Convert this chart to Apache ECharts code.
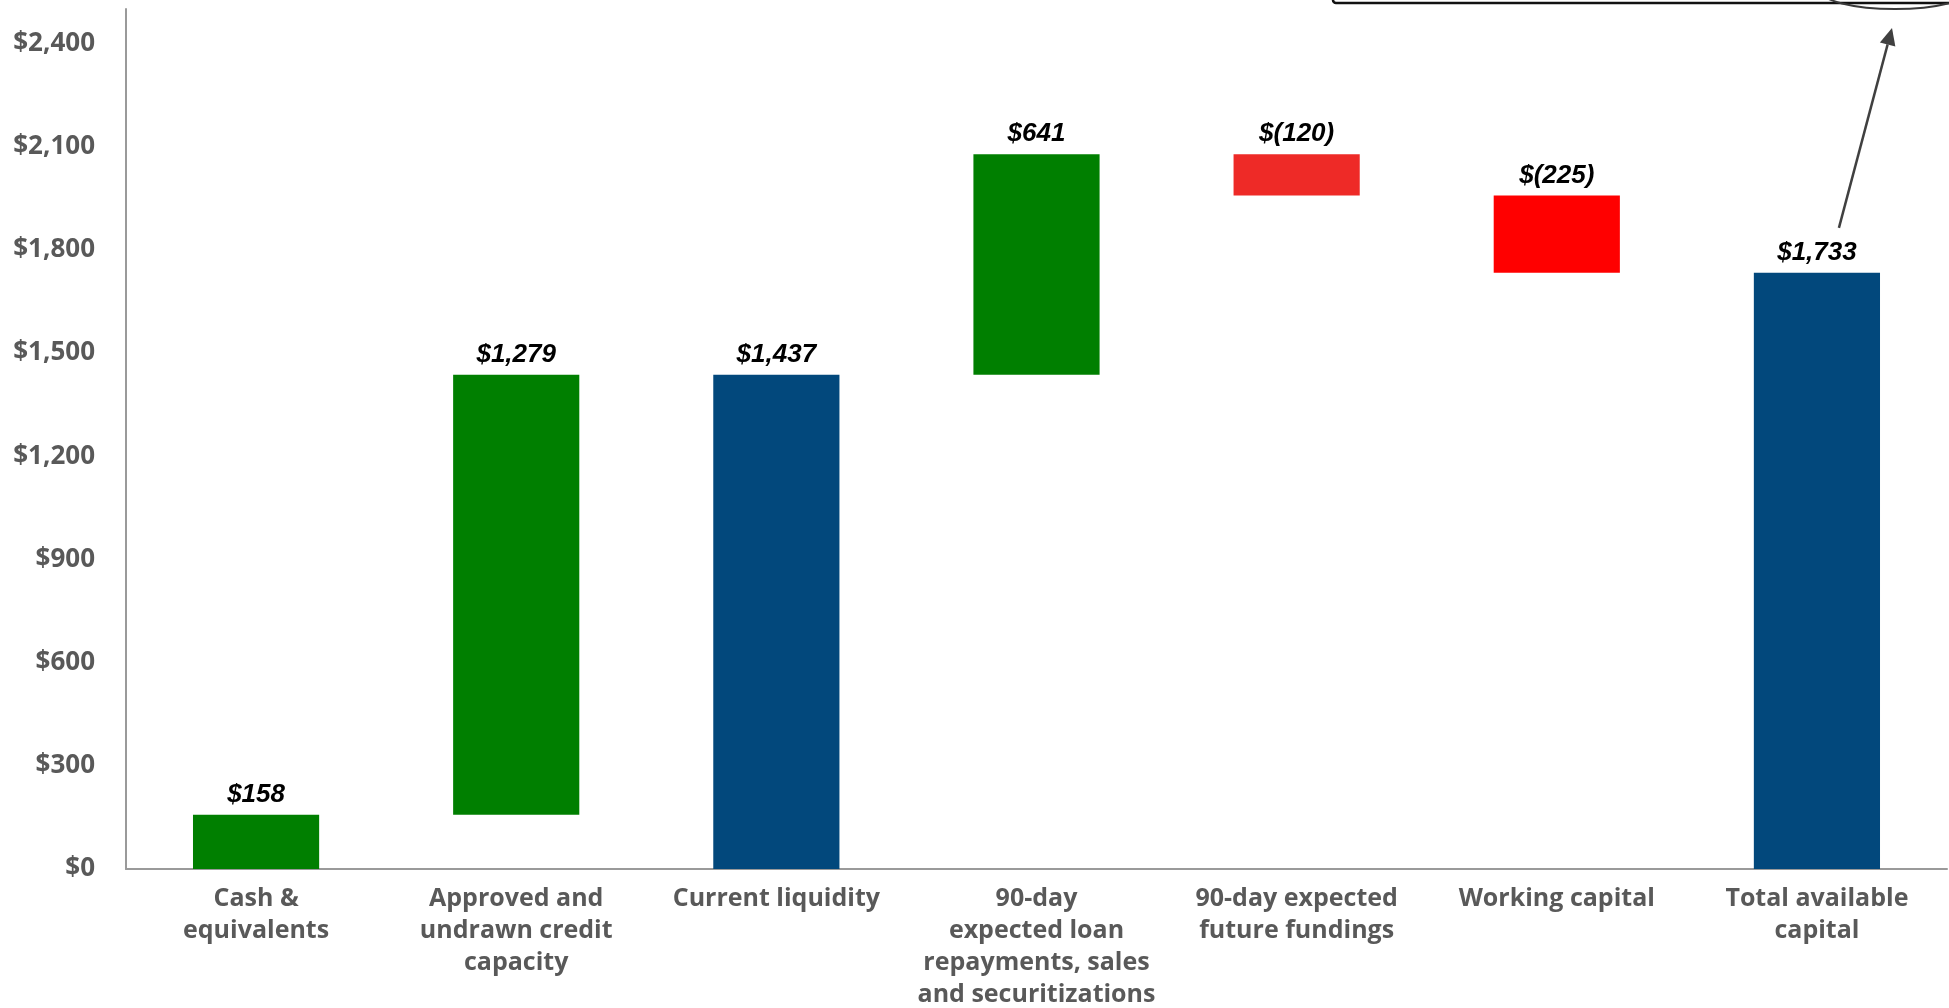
<!DOCTYPE html>
<html>
<head>
<meta charset="utf-8">
<title>Total available capital</title>
<script src="https://cdn.jsdelivr.net/npm/echarts@6/dist/echarts.min.js"></script>
<style>
  html, body { margin: 0; padding: 0; background: #ffffff; }
  #chart { width: 1949px; height: 1008px; }
</style>
</head>
<body>
<div id="chart"></div>
<script>
// Bridge from cash on hand to total available capital ($ millions)
const categories = [
  'Cash &\nequivalents',
  'Approved and\nundrawn credit\ncapacity',
  'Current liquidity',
  '90-day\nexpected loan\nrepayments, sales\nand securitizations',
  '90-day expected\nfuture fundings',
  'Working capital',
  'Total available\ncapital'
];
const amounts = [158, 1279, 1437, 641, -120, -225, 1733];
const isTotal = [false, false, true, false, false, false, true];

// value axis range and step
const axisMin = 0;
const axisMax = 2500;
const axisStep = 300;

// bar fills
const barColors = ['#007f00', '#007f00', '#02487c', '#007f00', '#ee2a27', '#ff0000', '#02487c'];

// Waterfall: an invisible base bar lifts each step to the running total
const bases = [];
const heights = [];
let running = 0;
amounts.forEach((a, i) => {
  if (isTotal[i]) {
    bases.push(0);
    heights.push(a);
    running = a;
  } else if (a >= 0) {
    bases.push(running);
    heights.push(a);
    running += a;
  } else {
    running += a;
    bases.push(running);
    heights.push(-a);
  }
});

function money(v) {
  const s = Math.abs(v).toLocaleString('en-US');
  return v < 0 ? '$(' + s + ')' : '$' + s;
}

const axisGrey = '#9a9a9a';
const labelGrey = '#595959';

const chart = echarts.init(document.getElementById('chart'), null, { renderer: 'canvas' });

chart.setOption({
  animation: false,
  backgroundColor: '#ffffff',
  grid: {
    left: 126,
    right: 2,
    top: 9,
    bottom: 139,
    containLabel: false,
    outerBoundsMode: 'none'
  },
  xAxis: {
    type: 'category',
    data: categories,
    axisLine: { show: true, lineStyle: { color: axisGrey, width: 2 } },
    axisTick: { show: false },
    splitLine: { show: false },
    axisLabel: {
      interval: 0,
      margin: 14,
      color: labelGrey,
      fontFamily: 'Open Sans',
      fontWeight: 'bold',
      fontSize: 25,
      lineHeight: 32,
      align: 'center'
    }
  },
  yAxis: {
    type: 'value',
    min: axisMin,
    max: axisMax,
    interval: axisStep,
    axisLine: { show: true, lineStyle: { color: axisGrey, width: 2 } },
    axisTick: { show: false },
    splitLine: { show: false },
    axisLabel: {
      margin: 31,
      color: labelGrey,
      fontFamily: 'Open Sans',
      fontWeight: 'bold',
      fontSize: 26,
      showMaxLabel: false,
      formatter: v => (v % axisStep === 0 ? '$' + v.toLocaleString('en-US') : '')
    }
  },
  series: [
    {
      name: 'base',
      type: 'bar',
      stack: 'bridge',
      barWidth: '48.5%',
      silent: true,
      itemStyle: { color: 'transparent' },
      data: bases
    },
    {
      name: 'step',
      type: 'bar',
      stack: 'bridge',
      barWidth: '48.5%',
      data: heights.map((h, i) => ({ value: h, itemStyle: { color: barColors[i] } })),
      label: {
        show: true,
        position: 'top',
        distance: 7,
        color: '#000000',
        fontFamily: 'Liberation Sans',
        fontStyle: 'italic',
        fontWeight: 'bold',
        fontSize: 26,
        formatter: p => money(amounts[p.dataIndex])
      }
    }
  ]
});

// Callout frame in the top-right corner with an arrow rising from the total
const last = amounts.length - 1;
const totalTop = chart.convertToPixel({ xAxisIndex: 0, yAxisIndex: 0 }, [last, amounts[last]]);
const start = [totalTop[0] + 22, totalTop[1] - 45];
const tip = [1892, 28];
const dx = tip[0] - start[0];
const dy = tip[1] - start[1];
const len = Math.sqrt(dx * dx + dy * dy);
const ux = dx / len, uy = dy / len;
const headLen = 17, headHalf = 8;
const bx = tip[0] - ux * headLen, by = tip[1] - uy * headLen;
const nx = -uy, ny = ux;

chart.setOption({
  graphic: [
    {
      type: 'rect',
      shape: { x: 1333, y: -300, width: 800, height: 303, r: 3 },
      style: { fill: 'none', stroke: '#111111', lineWidth: 2.5 },
      silent: true
    },
    {
      type: 'ellipse',
      shape: { cx: 1895, cy: -10, rx: 75, ry: 19 },
      style: { fill: 'none', stroke: '#3a3a3a', lineWidth: 2 },
      silent: true
    },
    {
      type: 'line',
      shape: { x1: start[0], y1: start[1], x2: bx, y2: by },
      style: { stroke: '#404040', lineWidth: 2.5 },
      silent: true
    },
    {
      type: 'polygon',
      shape: {
        points: [
          tip,
          [bx + nx * headHalf, by + ny * headHalf],
          [bx - nx * headHalf, by - ny * headHalf]
        ]
      },
      style: { fill: '#404040' },
      silent: true
    }
  ]
});
</script>
</body>
</html>
